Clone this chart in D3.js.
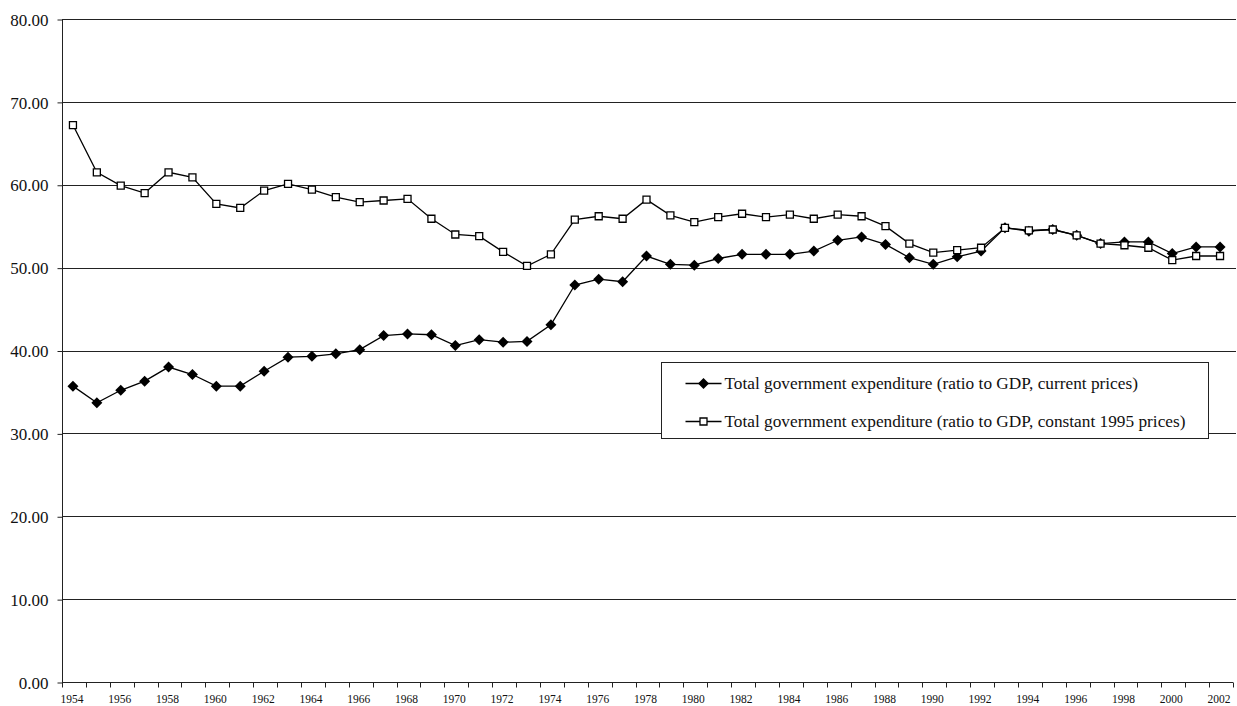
<!DOCTYPE html>
<html>
<head>
<meta charset="utf-8">
<script src="https://cdn.jsdelivr.net/npm/d3@7"></script>
<style>
  body { margin: 0; background: #fff; }
  svg, svg text { font-family: "Liberation Serif", "Times New Roman", serif; }
  svg { display: block; }
</style>
</head>
<body>
<script>
// years on the category axis
var years = [1954,1955,1956,1957,1958,1959,1960,1961,1962,1963,1964,1965,1966,1967,1968,1969,
  1970,1971,1972,1973,1974,1975,1976,1977,1978,1979,1980,1981,1982,1983,1984,1985,1986,1987,
  1988,1989,1990,1991,1992,1993,1994,1995,1996,1997,1998,1999,2000,2001,2002];

// ratio to GDP, current prices
var currentPrices = [35.7,33.7,35.2,36.3,38.0,37.1,35.7,35.7,37.5,39.2,39.3,39.6,40.1,41.8,42.0,41.9,
  40.6,41.3,41.0,41.1,43.1,47.9,48.6,48.3,51.4,50.4,50.3,51.1,51.6,51.6,51.6,52.0,53.3,53.7,
  52.8,51.2,50.4,51.3,52.0,54.8,54.4,54.6,53.9,52.9,53.1,53.1,51.7,52.5,52.5];

// ratio to GDP, constant 1995 prices
var constantPrices = [67.2,61.5,59.9,59.0,61.5,60.9,57.7,57.2,59.3,60.1,59.4,58.5,57.9,58.1,58.3,55.9,
  54.0,53.8,51.9,50.2,51.6,55.8,56.2,55.9,58.2,56.3,55.5,56.1,56.5,56.1,56.4,55.9,56.4,56.2,
  55.0,52.9,51.8,52.1,52.4,54.8,54.5,54.6,53.9,52.9,52.7,52.4,50.9,51.4,51.4];

var yTicks = [0,10,20,30,40,50,60,70,80];
var labelYears = [1954,1956,1958,1960,1962,1964,1966,1968,1970,1972,1974,1976,1978,1980,1982,
  1984,1986,1988,1990,1992,1994,1996,1998,2000,2002];

var legendNames = [
  "Total government expenditure (ratio to GDP, current prices)",
  "Total government expenditure (ratio to GDP, constant 1995 prices)"
];

var W = 1237, H = 706;
var plotL = 62, plotR = 1233, plotT = 19, plotB = 682;
var serif = '"Liberation Serif", "Times New Roman", serif';

var svg = d3.select("body").append("svg")
  .attr("width", W)
  .attr("height", H);

var x = d3.scaleBand().domain(years).range([plotL, plotR]).padding(0);
var y = d3.scaleLinear().domain([0, 80]).range([plotB, plotT]);

function cx(d, i) { return x(years[i]) + x.bandwidth() / 2 - 1; }

// gridlines
svg.append("g")
  .selectAll("line")
  .data(yTicks.filter(function(d){ return d > 0; }))
  .enter().append("line")
    .attr("x1", plotL)
    .attr("x2", plotR + 3)
    .attr("y1", function(d){ return Math.round(y(d)) + 0.5; })
    .attr("y2", function(d){ return Math.round(y(d)) + 0.5; })
    .attr("stroke", "#222")
    .attr("stroke-width", 1);

// y axis
var yAxis = svg.append("g")
  .attr("transform", "translate(" + (plotL + 0.5) + ",0.5)")
  .call(d3.axisLeft(y).tickValues(yTicks).tickFormat(d3.format(".2f")).tickSize(5).tickPadding(9));
yAxis.attr("font-family", null).attr("font-size", null);
yAxis.select(".domain").attr("d", "M0," + plotT + "V" + plotB).attr("stroke", "#222");
yAxis.selectAll(".tick line").attr("stroke", "#222");
yAxis.selectAll("text")
  .style("font-family", serif)
  .style("font-size", "17px")
  .attr("fill", "#111")
  .attr("dy", "0.33em");

// x axis
var xAxis = svg.append("g")
  .attr("transform", "translate(0," + (plotB + 0.5) + ")")
  .call(d3.axisBottom(x).tickValues(labelYears).tickSize(0));
xAxis.attr("font-family", null).attr("font-size", null);
xAxis.select(".domain").attr("d", "M" + plotL + ",0H" + plotR).attr("stroke", "#222");
xAxis.selectAll("text")
  .attr("y", 20)
  .attr("dy", null)
  .attr("dx", -2)
  .style("font-family", serif)
  .style("font-size", "13px")
  .attr("fill", "#111")
  .attr("textLength", 23)
  .attr("lengthAdjust", "spacingAndGlyphs");

// tick marks between categories
var bounds = years.map(function(d){ return x(d); }).concat([plotR]);
xAxis.selectAll(".bnd")
  .data(bounds)
  .enter().append("line")
    .attr("class", "bnd")
    .attr("x1", function(d){ return Math.round(d) + 0.5; })
    .attr("x2", function(d){ return Math.round(d) + 0.5; })
    .attr("y1", 0)
    .attr("y2", 5)
    .attr("stroke", "#222");

var line = d3.line()
  .x(cx)
  .y(function(d){ return y(d); });

var diamond = "M0,-5.5L5.5,0L0,5.5L-5.5,0Z";
var square = "M-3.5,-3.5H3.5V3.5H-3.5Z";

// current prices series
svg.append("path")
  .datum(currentPrices)
  .attr("d", line)
  .attr("fill", "none")
  .attr("stroke", "#000")
  .attr("stroke-width", 1.3);

svg.append("g").selectAll("path")
  .data(currentPrices)
  .enter().append("path")
    .attr("d", diamond)
    .attr("transform", function(d, i){ return "translate(" + cx(d, i) + "," + y(d) + ")"; })
    .attr("fill", "#000");

// constant prices series
svg.append("path")
  .datum(constantPrices)
  .attr("d", line)
  .attr("fill", "none")
  .attr("stroke", "#000")
  .attr("stroke-width", 1.3);

svg.append("g").selectAll("path")
  .data(constantPrices)
  .enter().append("path")
    .attr("d", square)
    .attr("transform", function(d, i){ return "translate(" + cx(d, i) + "," + y(d) + ")"; })
    .attr("fill", "#fff")
    .attr("stroke", "#000")
    .attr("stroke-width", 1.3);

// legend
var lg = svg.append("g").attr("transform", "translate(661.5,362.5)");
lg.append("rect")
  .attr("width", 547)
  .attr("height", 76)
  .attr("fill", "#fff")
  .attr("stroke", "#222");

var rows = lg.selectAll(".row")
  .data(legendNames)
  .enter().append("g")
    .attr("class", "row")
    .attr("transform", function(d, i){ return "translate(0," + (21 + i * 38) + ")"; });

rows.append("line")
  .attr("x1", 24).attr("x2", 60)
  .attr("stroke", "#000")
  .attr("stroke-width", 1.3);

rows.append("path")
  .attr("d", function(d, i){ return i === 0 ? diamond : square; })
  .attr("transform", "translate(42,0)")
  .attr("fill", function(d, i){ return i === 0 ? "#000" : "#fff"; })
  .attr("stroke", function(d, i){ return i === 0 ? "none" : "#000"; })
  .attr("stroke-width", 1.3);

rows.append("text")
  .attr("x", 63)
  .attr("dy", "0.33em")
  .style("font-family", serif)
  .style("font-size", "17.3px")
  .attr("fill", "#111")
  .text(function(d){ return d; });
</script>
</body>
</html>
